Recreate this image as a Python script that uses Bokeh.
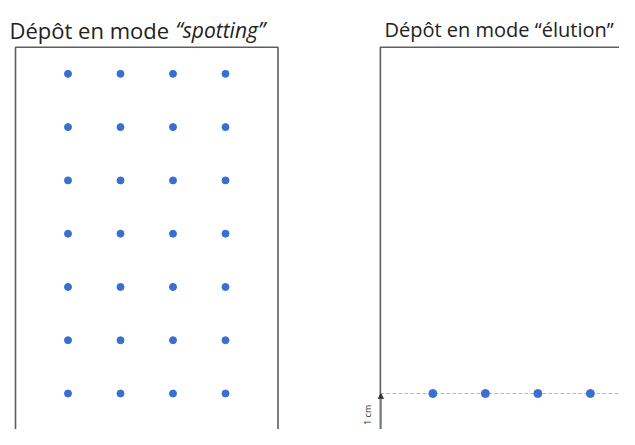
from bokeh.plotting import figure
from bokeh.models import Range1d, Label, Arrow, NormalHead
from bokeh.core.properties import value
from bokeh.embed import file_html
from bokeh.resources import INLINE

# Data (cm)
spot_cols = [1, 2, 3, 4]              # lanes, cm from plate's left edge
spot_rows = [1, 2, 3, 4, 5, 6, 7]     # spots, cm from plate bottom
elution_rows = [1]                    # deposit line, cm from bottom
plate_w = 5.0
plate_h = 7.5
titles = ["Dépôt en mode ", "“spotting”", "Dépôt en mode “élution”"]
dim_label = "1 cm"

# layout
sx = 52.5   # px per cm horizontally
sy = 53.28  # px per cm vertically
W, H = 619, 429
x0_px = 15
y0_px = 446.3
left_off = 0.0
right_off = 6.95

p = figure(width=W, height=H, output_backend="svg", toolbar_location=None,
           x_range=Range1d(-x0_px / sx, (W - x0_px) / sx),
           y_range=Range1d((y0_px - H) / sy, y0_px / sy),
           min_border=0, outline_line_color=None)
p.axis.visible = False
p.grid.visible = False
p.background_fill_color = "white"

blue = "#3a6fd2"
edge = "#5e5e5e"

# plates
p.quad(left=[left_off, right_off], right=[left_off + plate_w, right_off + plate_w],
       bottom=[0, 0], top=[plate_h, plate_h], fill_color=None,
       line_color=edge, line_width=1.6)

# spotting spots
xs, ys = [], []
for r in spot_rows:
    for c in spot_cols:
        xs.append(left_off + c)
        ys.append(r)
p.scatter(xs, ys, size=7, color=blue)

# elution line + spots
for r in elution_rows:
    p.segment(x0=[right_off], y0=[r], x1=[right_off + plate_w], y1=[r],
              line_color="#b8b8b8", line_width=1.2, line_dash="4 2")
    p.scatter([right_off + c for c in spot_cols], [r] * len(spot_cols), size=8, color=blue)

# dimension arrow
p.add_layout(Arrow(x_start=right_off + 0.01, y_start=0.08, x_end=right_off + 0.01, y_end=elution_rows[0],
                   line_color="#7a7a7a", line_width=1.5,
                   start=NormalHead(size=5, fill_color="#333333", line_color="#333333"),
                   end=NormalHead(size=5, fill_color="#333333", line_color="#333333")))
p.text(x=[right_off - 0.24], y=[0.6], text=[dim_label], angle=1.5708,
       text_font=value("Open Sans"), text_font_size="9px", text_color="#333333",
       text_align="center", text_baseline="middle")

# titles
base = H - 29
p.add_layout(Label(x=9, y=base, x_units="screen", y_units="screen", text=titles[0],
                   text_font="Open Sans", text_font_size="22px", text_color="#222222",
                   text_baseline="alphabetic"))
p.add_layout(Label(x=175, y=base, x_units="screen", y_units="screen", text=titles[1],
                   text_font="Open Sans", text_font_size="21px", text_font_style="italic",
                   text_color="#222222", text_baseline="alphabetic"))
p.add_layout(Label(x=384, y=base, x_units="screen", y_units="screen", text=titles[2],
                   text_font="Open Sans", text_font_size="20px", text_color="#222222",
                   text_baseline="alphabetic"))

open("out.html", "w").write(file_html(p, INLINE))
